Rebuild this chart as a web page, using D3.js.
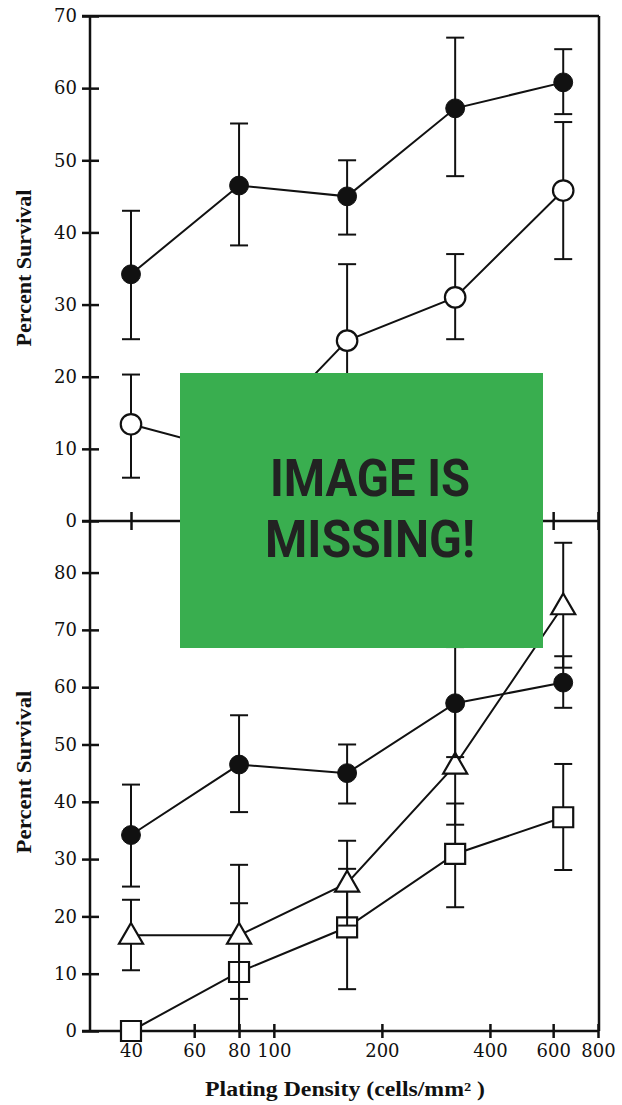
<!DOCTYPE html>
<html>
<head>
<meta charset="utf-8">
<script src="https://cdn.jsdelivr.net/npm/d3@7"></script>
<style>
  body { margin: 0; background: #fff; }
  svg { display: block; }
</style>
</head>
<body>
<script>
// plating density (cells/mm2) for every series
var densities = [40, 80, 160, 320, 640];
var xTicks = [40, 60, 80, 100, 200, 400, 600, 800];
var yTicksTop = [0, 10, 20, 30, 40, 50, 60, 70];
var yTicksBottom = [0, 10, 20, 30, 40, 50, 60, 70, 80];

// filled circles (shown in both panels)
var filledMean = [34.2, 46.5, 45, 57.2, 60.8];
var filledHi = [43, 55.1, 50, 67, 65.4];
var filledLo = [25.2, 38.2, 39.7, 47.8, 56.4];

// open circles (top panel)
var openMean = [13.4, 9.4, 25, 31, 45.8];
var openHi = [20.3, 16, 35.6, 37, 55.3];
var openLo = [6, 3, 14.4, 25.2, 36.3];

// triangles (bottom panel)
var triMean = [16.7, 16.7, 25.8, 46.4, 74.2];
var triHi = [22.9, 29, 33.2, 56.8, 85.2];
var triLo = [10.6, 5.6, 18.4, 36, 63.4];

// squares (bottom panel)
var sqMean = [0, 10.3, 18.1, 30.9, 37.3];
var sqHi = [null, 22.3, 28.3, 39.7, 46.6];
var sqLo = [null, 0, 7.3, 21.6, 28.1];

var w = 622,
    h = 1105;

var LEFT = 90, RIGHT = 599;
var TOP = 16, MID = 521, BOTTOM = 1031;
var SERIF = 'DejaVu Serif, Liberation Serif, serif';
var BOLD_SERIF = 'Liberation Serif, DejaVu Serif, serif';

var svg = d3.select('body').append('svg')
  .attr('width', w)
  .attr('height', h);

var x = d3.scaleLog().domain([30.75, 800]).range([LEFT, RIGHT - 1]);
var yTop = d3.scaleLinear().domain([0, 70]).range([MID, TOP]);
var yBot = d3.scaleLinear().domain([0, 89]).range([BOTTOM, MID]);

function zip(mean, lo, hi) {
  return densities.map(function(d, i) {
    return { x: d, v: mean[i], lo: lo ? lo[i] : null, hi: hi ? hi[i] : null };
  });
}

// frame lines
var frame = svg.append('g')
  .attr('stroke', '#111')
  .attr('stroke-width', 2.5)
  .attr('fill', 'none');
frame.append('line').attr('x1', LEFT - 8).attr('x2', RIGHT).attr('y1', TOP).attr('y2', TOP);
frame.append('line').attr('x1', RIGHT).attr('x2', RIGHT).attr('y1', TOP).attr('y2', BOTTOM);
frame.append('line').attr('x1', LEFT).attr('x2', LEFT).attr('y1', TOP).attr('y2', BOTTOM);
frame.append('line').attr('x1', LEFT - 8).attr('x2', RIGHT).attr('y1', MID).attr('y2', MID);
frame.append('line').attr('x1', LEFT - 8).attr('x2', RIGHT).attr('y1', BOTTOM).attr('y2', BOTTOM);

function styleAxis(g) {
  g.select('.domain').remove();
  g.selectAll('.tick line').attr('stroke', '#111').attr('stroke-width', 2.5);
  g.selectAll('.tick text')
    .attr('fill', '#111')
    .style('font-family', SERIF)
    .style('font-size', '18px');
}

// y axes
svg.append('g')
  .attr('transform', 'translate(' + LEFT + ',0)')
  .call(d3.axisLeft(yTop).tickValues(yTicksTop).tickSize(8).tickPadding(5))
  .call(styleAxis)
  .call(function(g) { g.selectAll('.tick line').attr('x1', 9); });

svg.append('g')
  .attr('transform', 'translate(' + LEFT + ',0)')
  .call(d3.axisLeft(yBot).tickValues(yTicksBottom).tickSize(8).tickPadding(5))
  .call(styleAxis)
  .call(function(g) { g.selectAll('.tick line').attr('x1', 9); });

// x ticks on the top panel (no labels)
svg.append('g')
  .attr('transform', 'translate(0,' + MID + ')')
  .call(d3.axisBottom(x).tickValues(xTicks).tickSize(9).tickFormat(''))
  .call(styleAxis)
  .call(function(g) { g.selectAll('.tick line').attr('y1', -9); });

// bottom x axis
svg.append('g')
  .attr('transform', 'translate(0,' + BOTTOM + ')')
  .call(d3.axisBottom(x).tickValues(xTicks).tickSize(7).tickPadding(6).tickFormat(d3.format('d')))
  .call(styleAxis)
  .call(function(g) { g.selectAll('.tick line').attr('y1', -7); });

function drawSeries(y, data, shape, filled) {
  var g = svg.append('g');

  g.append('path')
    .datum(data)
    .attr('fill', 'none')
    .attr('stroke', '#111')
    .attr('stroke-width', 2)
    .attr('d', d3.line().x(function(d) { return x(d.x); }).y(function(d) { return y(d.v); }));

  var bars = g.selectAll('.err')
      .data(data.filter(function(d) { return d.hi != null; }))
    .enter().append('g')
      .attr('class', 'err')
      .attr('stroke', '#111')
      .attr('stroke-width', 2);
  bars.append('line')
    .attr('x1', function(d) { return x(d.x); })
    .attr('x2', function(d) { return x(d.x); })
    .attr('y1', function(d) { return y(d.lo); })
    .attr('y2', function(d) { return y(d.hi); });
  bars.append('line')
    .attr('x1', function(d) { return x(d.x) - 9; })
    .attr('x2', function(d) { return x(d.x) + 9; })
    .attr('y1', function(d) { return y(d.hi); })
    .attr('y2', function(d) { return y(d.hi); });
  bars.append('line')
    .attr('x1', function(d) { return x(d.x) - 9; })
    .attr('x2', function(d) { return x(d.x) + 9; })
    .attr('y1', function(d) { return y(d.lo); })
    .attr('y2', function(d) { return y(d.lo); });

  var size = { circle: filled ? 280 : 330, triangle: 250, square: 400 }[shape];
  var type = { circle: d3.symbolCircle, triangle: d3.symbolTriangle, square: d3.symbolSquare }[shape];

  g.selectAll('.mark')
      .data(data)
    .enter().append('path')
      .attr('class', 'mark')
      .attr('transform', function(d) {
        // triangles sit a little lower on their point
        var dy = shape === 'triangle' ? 1.5 : 0;
        return 'translate(' + x(d.x) + ',' + (y(d.v) + dy) + ')';
      })
      .attr('d', d3.symbol().type(type).size(size))
      .attr('fill', filled ? '#111' : '#fff')
      .attr('stroke', '#111')
      .attr('stroke-width', filled ? 1 : 2.2);
}

// top panel
drawSeries(yTop, zip(openMean, openLo, openHi), 'circle', false);
drawSeries(yTop, zip(filledMean, filledLo, filledHi), 'circle', true);

// bottom panel
drawSeries(yBot, zip(sqMean, sqLo, sqHi), 'square', false);
drawSeries(yBot, zip(triMean, triLo, triHi), 'triangle', false);
drawSeries(yBot, zip(filledMean, filledLo, filledHi), 'circle', true);

// axis titles
svg.append('text')
  .attr('transform', 'translate(31,' + 268 + ') rotate(-90)')
  .attr('text-anchor', 'middle')
  .attr('textLength', 157)
  .attr('lengthAdjust', 'spacingAndGlyphs')
  .style('font-family', BOLD_SERIF)
  .style('font-weight', 'bold')
  .style('font-size', '21px')
  .attr('fill', '#111')
  .text('Percent Survival');

svg.append('text')
  .attr('transform', 'translate(31,' + 772 + ') rotate(-90)')
  .attr('text-anchor', 'middle')
  .attr('textLength', 163)
  .attr('lengthAdjust', 'spacingAndGlyphs')
  .style('font-family', BOLD_SERIF)
  .style('font-weight', 'bold')
  .style('font-size', '21px')
  .attr('fill', '#111')
  .text('Percent Survival');

svg.append('text')
  .attr('x', 345)
  .attr('y', 1096)
  .attr('text-anchor', 'middle')
  .attr('textLength', 280)
  .attr('lengthAdjust', 'spacingAndGlyphs')
  .style('font-family', BOLD_SERIF)
  .style('font-weight', 'bold')
  .style('font-size', '20px')
  .attr('fill', '#111')
  .text('Plating Density (cells/mm² )');

// placeholder box laid over the chart
svg.append('rect')
  .attr('x', 180)
  .attr('y', 373)
  .attr('width', 363)
  .attr('height', 275)
  .attr('fill', '#39ae4f');

svg.append('text')
  .attr('x', 370)
  .attr('y', 496)
  .attr('text-anchor', 'middle')
  .attr('textLength', 200)
  .attr('lengthAdjust', 'spacingAndGlyphs')
  .style('font-family', 'Liberation Sans Narrow, Roboto, sans-serif')
  .style('font-weight', 'bold')
  .style('font-size', '51px')
  .attr('fill', '#222')
  .text('IMAGE IS');

svg.append('text')
  .attr('x', 370)
  .attr('y', 557)
  .attr('text-anchor', 'middle')
  .attr('textLength', 210)
  .attr('lengthAdjust', 'spacingAndGlyphs')
  .style('font-family', 'Liberation Sans Narrow, Roboto, sans-serif')
  .style('font-weight', 'bold')
  .style('font-size', '51px')
  .attr('fill', '#222')
  .text('MISSING!');
</script>
</body>
</html>
